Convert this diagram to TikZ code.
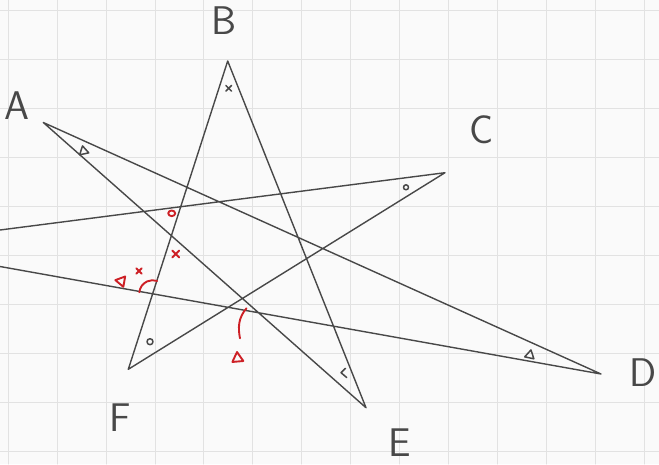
\documentclass[tikz,border=0pt]{standalone}
\usepackage{tikz}
\usetikzlibrary{calc}
\definecolor{PaperWhite}{RGB}{250,250,250}
\definecolor{GridGray}{RGB}{226,226,226}
\definecolor{PenGray}{RGB}{72,72,72}
\definecolor{PenRed}{RGB}{205,32,38}
\newcommand{\crossmark}[3]{%
  \draw[shift={(#1,#2)},#3] (-3.5,-3.5)--(3.5,3.5) (-3.5,3.5)--(3.5,-3.5);}
\newcommand{\trianglemark}[3]{%
  \draw[shift={(#1,#2)},#3] (-5.5,4)--(5.5,4)--(0,-5.5)--cycle;}

\begin{document}
\begin{tikzpicture}[x=1pt,y=-1pt,line cap=round,line join=round,
    pen/.style={PenGray,line width=1.4},
    blackmark/.style={PenGray,line width=1.5},
    redmark/.style={PenRed,line width=1.9},
    letter/.style={PenGray,font=\fontsize{40}{40}\sffamily}]
  \clip (0,0) rectangle (659,464);
  \fill[PaperWhite] (0,0) rectangle (659,464);
  \foreach \i in {0,...,13}
    \draw[GridGray,line width=1] ({8.3+48.9*\i},0) -- ++(0,464);
  \foreach \j in {0,...,9}
    \draw[GridGray,line width=1] (0,{10+49*\j}) -- ++(659,0);

  % star points
  \coordinate (A) at (43.3,122.5);
  \coordinate (B) at (227.7,61);
  \coordinate (C) at (445,172.7);
  \coordinate (D) at (601,374);
  \coordinate (E) at (366,407.7);
  \coordinate (F) at (128.3,369.3);
  \coordinate (Cend) at (0,230);
  \coordinate (Dend) at (0,266.5);

  \draw[pen] (A) -- (E) (A) -- (D) (B) -- (F) (B) -- (E)
             (C) -- (F) (C) -- (Cend) (D) -- (Dend);

  \node[letter] (labA) at (17,106) {A};
  \node[letter] (labB) at (224,21) {B};
  \node[letter] (labC) at (482,130) {C};
  \node[letter] (labD) at (643,373) {D};
  \node[letter] (labE) at (400,443) {E};
  \node[letter] (labF) at (120,418) {F};

  % black angle marks
  \crossmark{228.7}{88.3}{blackmark,scale=0.8}
  \trianglemark{83.5}{150.5}{blackmark,scale=0.85,rotate=12}
  \draw[blackmark] (406,187.3) circle (2.5);
  \trianglemark{530}{354.5}{blackmark,scale=0.85,rotate=-12}
  \draw[blackmark] (345.5,368.3) -- (341,372.7) -- (346.7,377.5);
  \draw[blackmark] (150,341.7) circle (3);

  % red marks
  \draw[redmark] (171.7,213.3) ellipse (3.5 and 2.8);
  \crossmark{175.7}{254}{redmark}
  \crossmark{139}{271}{redmark,scale=0.75}
  \trianglemark{120.5}{281}{redmark,scale=0.95,rotate=80}
  \draw[redmark] (139.3,292.3) arc[start angle=-174,end angle=-71,radius=13.5];
  \draw[redmark] (246.5,308.3) .. controls (238,318) and (238,328) .. (240,338.3);
  \trianglemark{237.5}{357.5}{redmark,scale=1,rotate=5}
\end{tikzpicture}
\end{document}
